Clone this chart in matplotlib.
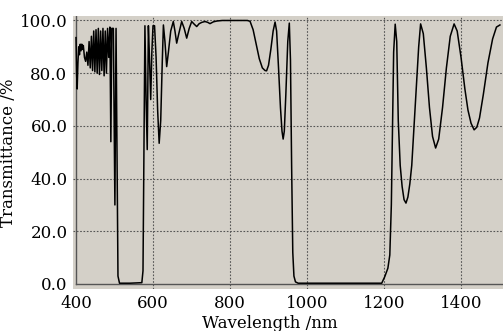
import matplotlib
matplotlib.use("Agg")
import matplotlib.pyplot as plt

# Wavelength (nm) and transmittance (%)
wavelength = [
    400, 401.5, 403, 405, 407, 409, 411, 413, 415, 417, 419, 422, 425, 428, 431, 434,
    437, 440, 443, 446, 449, 452, 455, 458, 461, 464, 467, 470, 473, 476, 479, 482,
    485, 488, 490.5, 493, 497, 501, 504, 509, 513,
    540, 571, 574, 577, 579, 582, 585, 588, 591, 594, 597, 600, 604, 608, 612, 616,
    620, 624, 627, 631, 635.5, 640, 646, 652.7, 657, 661.5, 667, 674.5, 681, 687.5,
    694, 700.5, 707, 713.5, 720, 727, 735, 742, 748, 757, 766, 780,
    845, 852, 860, 868, 876, 884, 891, 895, 900, 906, 912, 917, 921, 926, 931, 935,
    938, 941, 945, 950, 954, 957, 960, 963, 966, 970, 977,
    1100, 1194, 1202, 1210, 1215, 1219, 1222, 1225, 1229, 1233, 1237, 1242, 1247,
    1252, 1257, 1262, 1267, 1272, 1278, 1284, 1290, 1295, 1302, 1310, 1318, 1326,
    1334, 1342, 1352, 1362, 1372, 1382, 1390, 1400, 1410, 1418, 1426, 1434, 1441,
    1448, 1458, 1470, 1482, 1492, 1501,
]
transmittance = [
    93.5, 80, 74, 84, 90, 87, 91, 88.5, 91, 89, 90.5, 86, 84.5, 88, 83, 92,
    82, 94, 81, 96, 80.5, 96.5, 80, 97, 79.5, 96, 81, 97, 79, 96, 80, 97,
    86, 97.5, 54, 97, 97, 30, 97, 3, 0.3,
    0.3, 0.5, 5, 60, 98, 70, 51, 98, 85, 70, 88, 98, 98, 86, 66, 53.4,
    62, 84, 98.3, 92, 82.5, 88, 96, 99.6, 96, 91.4, 95, 99.6, 97, 93.3,
    97, 99.6, 98.6, 97.7, 98.8, 99.3, 99.6, 99.3, 98.8, 99.5, 99.8, 100,
    100, 99.7, 96.5, 91, 85.5, 82, 81, 80.9, 83, 89, 96, 99.4, 96, 82, 67, 58,
    55, 58, 72, 92, 99, 85, 45, 12, 3, 0.8, 0.3,
    0.3, 0.3, 2.8, 6, 11, 30, 60, 88, 98.6, 92, 62, 45, 37,
    32, 30.7, 33, 38, 45, 60, 75, 90, 98.7, 95, 82, 67, 56,
    51.6, 55, 67, 82, 94, 98.7, 96, 86, 74, 66, 61, 58.5, 59.5,
    63, 72, 84, 93, 97.5, 98.3,
]

x_ticks = [400, 600, 800, 1000, 1200, 1400]
y_ticks = [0, 20, 40, 60, 80, 100]

fig = plt.figure(figsize=(5.03, 3.31), dpi=100)
ax = fig.add_axes([73 / 503, 42 / 331, 430 / 503, 273 / 331])
ax.set_facecolor("#d4d0c8")
for s in ax.spines.values():
    s.set_visible(False)

ax.set_xlim(392.2, 1509)
ax.set_ylim(-1.9, 101.7)

for xv in x_ticks[1:]:
    ax.axvline(xv, color="#555555", lw=0.8, ls=(0, (1.5, 1.5)), zorder=1)
for yv in y_ticks[1:]:
    ax.axhline(yv, color="#555555", lw=0.8, ls=(0, (1.5, 1.5)), zorder=1)
ax.plot([400, 400], [0, 101.7], color="#555555", lw=1.0, zorder=2)
ax.plot([400, 1509], [0, 0], color="#555555", lw=1.0, zorder=2)

ax.plot(wavelength, transmittance, color="black", lw=1.1, zorder=3)

ax.set_xticks(x_ticks)
ax.set_xticklabels([str(v) for v in x_ticks])
ax.set_yticks(y_ticks)
ax.set_yticklabels([f"{v:.1f}" for v in y_ticks])
ax.tick_params(length=0, pad=4, labelsize=12)
for lab in ax.get_xticklabels() + ax.get_yticklabels():
    lab.set_family("DejaVu Serif")

ax.set_xlabel("Wavelength /nm", family="DejaVu Serif", fontsize=12, labelpad=-2)
ax.xaxis.set_label_coords(0.458, -0.095)
ax.set_ylabel("Transmittance /%", family="DejaVu Serif", fontsize=12)
ax.yaxis.set_label_coords(-0.13, 0.5)

fig.savefig("out.png", dpi=100)
